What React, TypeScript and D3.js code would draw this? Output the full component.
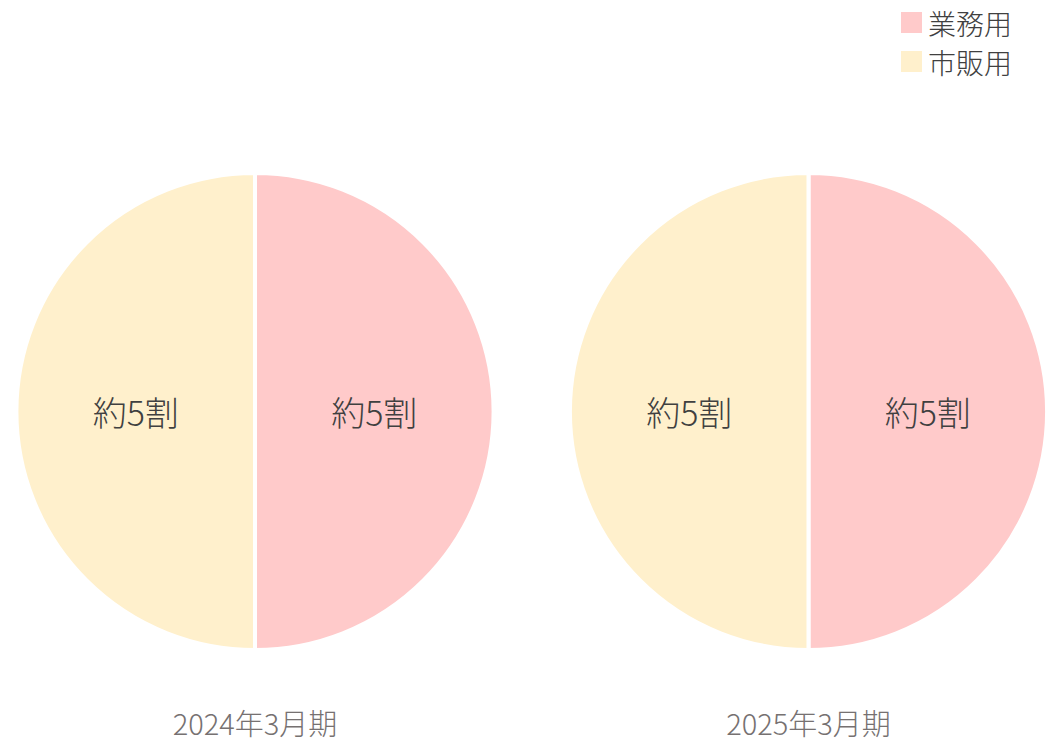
import React from "react";
import * as d3 from "d3";

const categories = ["業務用", "市販用"];
const periods = ["2024年3月期", "2025年3月期"];
const values2024 = [50, 50];
const values2025 = [50, 50];
const sliceLabels = ["約5割", "約5割"];
const colors = ["#FFCACA", "#FFF0CC"];

const W = 1052;
const H = 742;
const FONT = "'Noto Sans CJK JP', 'Noto Sans', sans-serif";

export default function App() {
  const series = [values2024, values2025];
  const centersX = [255, 808.5];
  const cy = 411.5;
  const r = 238.5;
  const pie = d3.pie<number>().sort(null).startAngle(0).endAngle(2 * Math.PI);
  const arc = d3.arc<d3.PieArcDatum<number>>().innerRadius(0).outerRadius(r);
  const labelArc = d3.arc<d3.PieArcDatum<number>>().innerRadius(r * 0.5).outerRadius(r * 0.5);

  return (
    <svg width={W} height={H} style={{ position: "absolute", left: 0, top: 0 }} fontFamily={FONT}>
      <rect width={W} height={H} fill="#fff" />
      {series.map((vals, si) => {
        const arcs = pie(vals);
        return (
          <g key={si} transform={`translate(${centersX[si]},${cy})`}>
            {arcs.map((a, i) => (
              <path key={i} d={arc(a) || ""} fill={colors[i]} stroke="#fff" strokeWidth={4} />
            ))}
            {arcs.map((a, i) => {
              const [x, y] = labelArc.centroid(a);
              return (
                <text key={"t" + i} x={x} y={y} textAnchor="middle" dominantBaseline="central" fontSize={34} fill="#404040" fontWeight={300}>
                  {sliceLabels[i]}
                </text>
              );
            })}
            <text x={0} y={722 - cy} textAnchor="middle" dominantBaseline="central" fontSize={29} fill="#767171" fontWeight={300}>
              {periods[si]}
            </text>
          </g>
        );
      })}
      {categories.map((c, i) => (
        <g key={c} transform={`translate(901,${12 + i * 39})`}>
          <rect width={21} height={21} fill={colors[i]} />
          <text x={27} y={11} dominantBaseline="central" fontSize={28} fill="#404040" fontWeight={300}>
            {c}
          </text>
        </g>
      ))}
    </svg>
  );
}
